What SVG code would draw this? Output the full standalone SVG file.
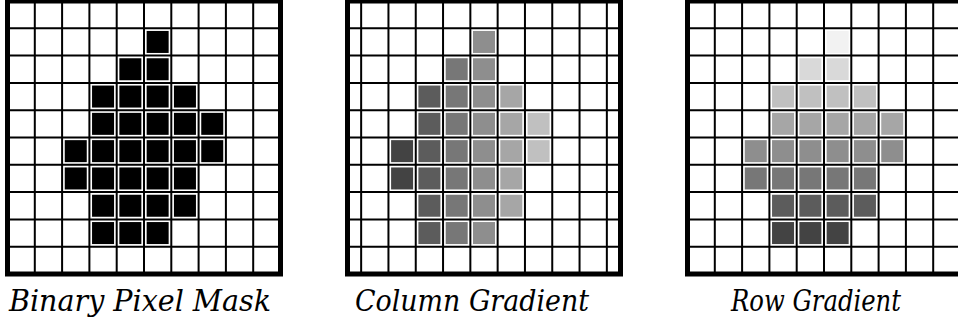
<svg xmlns="http://www.w3.org/2000/svg" width="958" height="322" viewBox="0 0 958 322">
<style>
.frame{fill:none;stroke:#000;stroke-width:5}
.grid{fill:none;stroke:#000;stroke-width:2}
.c0{fill:#000}.c1{fill:#f2f2f2}.c2{fill:#d9d9d9}.c3{fill:#c0c0c0}.c4{fill:#a6a6a6}.c5{fill:#8e8e8e}.c6{fill:#777777}.c7{fill:#5c5c5c}.c8{fill:#434343}
.lbl{font-family:"DejaVu Serif",serif;font-style:italic;font-size:30px;fill:#000;text-anchor:middle}
</style>
<defs>
<path id="gridA" class="grid" d="M27.3 0V273M54.6 0V273M81.9 0V273M109.2 0V273M136.5 0V273M163.8 0V273M191.1 0V273M218.4 0V273M245.7 0V273M0 27.3H273M0 54.6H273M0 81.9H273M0 109.2H273M0 136.5H273M0 163.8H273M0 191.1H273M0 218.4H273M0 245.7H273"/>
<path id="gridB" class="grid" d="M13.65 0V273M40.95 0V273M68.25 0V273M95.55 0V273M122.85 0V273M150.15 0V273M177.45 0V273M204.75 0V273M232.05 0V273M259.35 0V273M0 27.3H273M0 54.6H273M0 81.9H273M0 109.2H273M0 136.5H273M0 163.8H273M0 191.1H273M0 218.4H273M0 245.7H273"/>
</defs>
<g id="panel-binary" transform="translate(7.5,1)">
<rect width="273" height="273" fill="#fff"/>
<g class="c0">
<rect x="139.15" y="29.95" width="22" height="22"/>
<rect x="111.85" y="57.25" width="22" height="22"/><rect x="139.15" y="57.25" width="22" height="22"/>
<rect x="84.55" y="84.55" width="22" height="22"/><rect x="111.85" y="84.55" width="22" height="22"/><rect x="139.15" y="84.55" width="22" height="22"/><rect x="166.45" y="84.55" width="22" height="22"/>
<rect x="84.55" y="111.85" width="22" height="22"/><rect x="111.85" y="111.85" width="22" height="22"/><rect x="139.15" y="111.85" width="22" height="22"/><rect x="166.45" y="111.85" width="22" height="22"/><rect x="193.75" y="111.85" width="22" height="22"/>
<rect x="57.25" y="139.15" width="22" height="22"/><rect x="84.55" y="139.15" width="22" height="22"/><rect x="111.85" y="139.15" width="22" height="22"/><rect x="139.15" y="139.15" width="22" height="22"/><rect x="166.45" y="139.15" width="22" height="22"/><rect x="193.75" y="139.15" width="22" height="22"/>
<rect x="57.25" y="166.45" width="22" height="22"/><rect x="84.55" y="166.45" width="22" height="22"/><rect x="111.85" y="166.45" width="22" height="22"/><rect x="139.15" y="166.45" width="22" height="22"/><rect x="166.45" y="166.45" width="22" height="22"/>
<rect x="84.55" y="193.75" width="22" height="22"/><rect x="111.85" y="193.75" width="22" height="22"/><rect x="139.15" y="193.75" width="22" height="22"/><rect x="166.45" y="193.75" width="22" height="22"/>
<rect x="84.55" y="221.05" width="22" height="22"/><rect x="111.85" y="221.05" width="22" height="22"/><rect x="139.15" y="221.05" width="22" height="22"/>
</g>
<use href="#gridA"/>
<rect class="frame" width="273" height="273"/>
</g>
<g id="panel-column" transform="translate(347.5,1)">
<rect width="273" height="273" fill="#fff"/>
<rect class="c5" x="125.5" y="29.95" width="22" height="22"/>
<rect class="c6" x="98.2" y="57.25" width="22" height="22"/><rect class="c5" x="125.5" y="57.25" width="22" height="22"/>
<rect class="c7" x="70.9" y="84.55" width="22" height="22"/><rect class="c6" x="98.2" y="84.55" width="22" height="22"/><rect class="c5" x="125.5" y="84.55" width="22" height="22"/><rect class="c4" x="152.8" y="84.55" width="22" height="22"/>
<rect class="c7" x="70.9" y="111.85" width="22" height="22"/><rect class="c6" x="98.2" y="111.85" width="22" height="22"/><rect class="c5" x="125.5" y="111.85" width="22" height="22"/><rect class="c4" x="152.8" y="111.85" width="22" height="22"/><rect class="c3" x="180.1" y="111.85" width="22" height="22"/>
<rect class="c8" x="43.6" y="139.15" width="22" height="22"/><rect class="c7" x="70.9" y="139.15" width="22" height="22"/><rect class="c6" x="98.2" y="139.15" width="22" height="22"/><rect class="c5" x="125.5" y="139.15" width="22" height="22"/><rect class="c4" x="152.8" y="139.15" width="22" height="22"/><rect class="c3" x="180.1" y="139.15" width="22" height="22"/>
<rect class="c8" x="43.6" y="166.45" width="22" height="22"/><rect class="c7" x="70.9" y="166.45" width="22" height="22"/><rect class="c6" x="98.2" y="166.45" width="22" height="22"/><rect class="c5" x="125.5" y="166.45" width="22" height="22"/><rect class="c4" x="152.8" y="166.45" width="22" height="22"/>
<rect class="c7" x="70.9" y="193.75" width="22" height="22"/><rect class="c6" x="98.2" y="193.75" width="22" height="22"/><rect class="c5" x="125.5" y="193.75" width="22" height="22"/><rect class="c4" x="152.8" y="193.75" width="22" height="22"/>
<rect class="c7" x="70.9" y="221.05" width="22" height="22"/><rect class="c6" x="98.2" y="221.05" width="22" height="22"/><rect class="c5" x="125.5" y="221.05" width="22" height="22"/>
<use href="#gridB"/>
<rect class="frame" width="273" height="273"/>
</g>
<g id="panel-row" transform="translate(687.5,1)">
<rect width="273" height="273" fill="#fff"/>
<g class="c1"><rect x="139.15" y="29.95" width="22" height="22"/></g>
<g class="c2"><rect x="111.85" y="57.25" width="22" height="22"/><rect x="139.15" y="57.25" width="22" height="22"/></g>
<g class="c3"><rect x="84.55" y="84.55" width="22" height="22"/><rect x="111.85" y="84.55" width="22" height="22"/><rect x="139.15" y="84.55" width="22" height="22"/><rect x="166.45" y="84.55" width="22" height="22"/></g>
<g class="c4"><rect x="84.55" y="111.85" width="22" height="22"/><rect x="111.85" y="111.85" width="22" height="22"/><rect x="139.15" y="111.85" width="22" height="22"/><rect x="166.45" y="111.85" width="22" height="22"/><rect x="193.75" y="111.85" width="22" height="22"/></g>
<g class="c5"><rect x="57.25" y="139.15" width="22" height="22"/><rect x="84.55" y="139.15" width="22" height="22"/><rect x="111.85" y="139.15" width="22" height="22"/><rect x="139.15" y="139.15" width="22" height="22"/><rect x="166.45" y="139.15" width="22" height="22"/><rect x="193.75" y="139.15" width="22" height="22"/></g>
<g class="c6"><rect x="57.25" y="166.45" width="22" height="22"/><rect x="84.55" y="166.45" width="22" height="22"/><rect x="111.85" y="166.45" width="22" height="22"/><rect x="139.15" y="166.45" width="22" height="22"/><rect x="166.45" y="166.45" width="22" height="22"/></g>
<g class="c7"><rect x="84.55" y="193.75" width="22" height="22"/><rect x="111.85" y="193.75" width="22" height="22"/><rect x="139.15" y="193.75" width="22" height="22"/><rect x="166.45" y="193.75" width="22" height="22"/></g>
<g class="c8"><rect x="84.55" y="221.05" width="22" height="22"/><rect x="111.85" y="221.05" width="22" height="22"/><rect x="139.15" y="221.05" width="22" height="22"/></g>
<use href="#gridA"/>
<rect class="frame" width="273" height="273"/>
</g>
<g id="labels">
<text class="lbl" x="140" y="311" textLength="262" lengthAdjust="spacingAndGlyphs">Binary Pixel Mask</text>
<text class="lbl" x="472" y="311" textLength="234" lengthAdjust="spacingAndGlyphs">Column Gradient</text>
<text class="lbl" x="816" y="311" textLength="170" lengthAdjust="spacingAndGlyphs">Row Gradient</text>
</g>
<g id="connectors"/>
</svg>
